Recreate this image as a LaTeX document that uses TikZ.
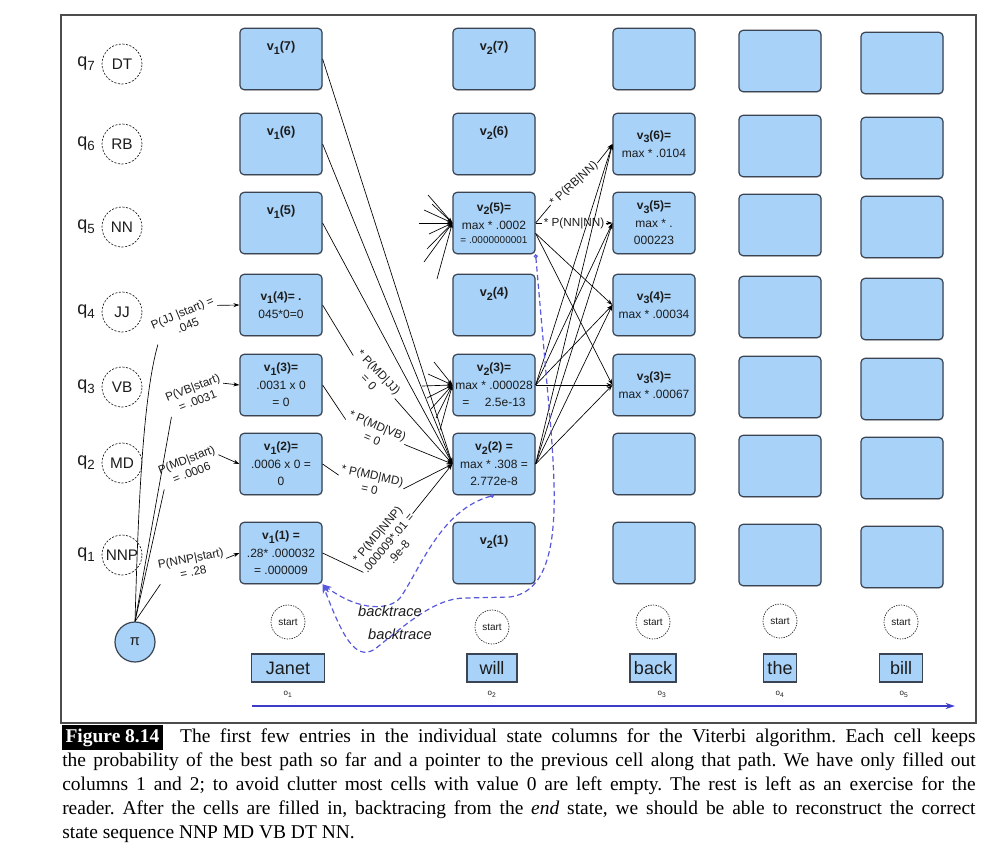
\documentclass[tikz,border=0pt]{standalone}
\usepackage{fontspec}
\setmainfont{Liberation Sans}
\newfontfamily\capfont{Liberation Serif}
\usetikzlibrary{positioning,arrows.meta,shadows}

\definecolor{cellblue}{RGB}{168,210,248}
\definecolor{celledge}{RGB}{58,68,82}
\definecolor{tracecol}{RGB}{88,88,220}
\definecolor{timecol}{RGB}{60,60,200}
\definecolor{inkcol}{RGB}{28,28,28}

\newcommand{\Vt}[2]{v\raisebox{-0.55ex}{\fontsize{8}{8}\selectfont #1}(#2)}
\newcommand{\Qt}[1]{q\raisebox{-0.45ex}{\fontsize{10}{10}\selectfont #1}}

\tikzset{
  cell/.style={draw=celledge, fill=cellblue, line width=0.9pt, rounded corners=3pt,
    minimum width=61.5pt, minimum height=46pt,
    drop shadow={shadow xshift=0.5pt, shadow yshift=-0.7pt, opacity=0.35}},
  celltitle/.style={inner sep=0pt, text=inkcol, font=\fontsize{9.5}{11}\selectfont\bfseries},
  celltext/.style={inner sep=0pt, align=center, text=inkcol, font=\fontsize{9}{12.5}\selectfont},
  wordbox/.style={draw=celledge, fill=cellblue, line width=0.9pt, minimum height=21pt,
    inner sep=0pt, text=inkcol, font=\fontsize{13.5}{15}\selectfont},
  statec/.style={circle, draw=inkcol, dash pattern=on 1.6pt off 1.1pt, line width=0.5pt,
    minimum size=30pt, inner sep=0pt, text=inkcol, font=\fontsize{11.5}{12}\selectfont},
  startc/.style={circle, draw=inkcol, dash pattern=on 1pt off 0.9pt, line width=0.5pt,
    minimum size=25.5pt, inner sep=0pt, text=inkcol, font=\fontsize{7.5}{8}\selectfont},
  pinode/.style={circle, draw=celledge, fill=cellblue, line width=0.9pt, minimum size=30pt,
    inner sep=0pt, text=inkcol, font=\fontsize{11}{12}\selectfont},
  qlab/.style={inner sep=0pt, text=inkcol, font=\fontsize{13.5}{14}\selectfont},
  olab/.style={inner sep=0pt, text=inkcol, font=\fontsize{6}{7}\selectfont},
  plabel/.style={inner sep=1pt, align=center, text=inkcol, font=\fontsize{8.8}{10.5}\selectfont},
  tarrow/.style={-{Stealth[length=4.5pt,width=3pt]}, line width=0.5pt},
  stub/.style={-{Stealth[length=4pt,width=2.6pt]}, line width=0.5pt},
  backtr/.style={tracecol, line width=0.9pt, dash pattern=on 4pt off 2.5pt,
    {Circle[open,length=3pt]}-{Stealth[length=7pt,width=5pt]}},
  btlab/.style={inner sep=0pt, text=inkcol, font=\fontsize{11}{12}\selectfont\itshape}
}

\begin{document}
\begin{tikzpicture}[x=0.75pt,y=-0.75pt]
  \useasboundingbox (0,0) rectangle (996,854);
  \draw[gray!60!black, line width=0.9pt] (61,15) rectangle (976,723);
  %
  % states
  \foreach \n/\s/\y in {7/DT/64,6/RB/144,5/NN/227,4/JJ/312,3/VB/387,2/MD/463,1/NNP/555} {
    \node[qlab] (q\n) at (86,\y) {\Qt{\n}};
    \node[statec] (s\n) at (122,\y) {\s};
  }
  \node[pinode] (pi) at (135,642) {π};
  %
  % trellis cells
  \foreach \c/\x/\dy in {1/281/0,2/494/0,3/654/0,4/780/2,5/902/4}
    \foreach \r/\y in {7/59,6/144,5/223,4/305,3/385,2/464,1/553}
      \node[cell] (v\c\r) at (\x,\y+\dy) {};
  \foreach \c/\r in {1/7,1/6,1/5,2/7,2/6,2/4,2/1}
    \node[celltitle, below=10pt of v\c\r.north] (t\c\r) {\Vt{\c}{\r}};
  \node[celltext] (x14) at (v14) {\textbf{\Vt{1}{4}= .}\\[1pt]045*0=0};
  \node[celltext] (x13) at (v13) {\textbf{\Vt{1}{3}=}\\[1pt].0031 x 0\\= 0};
  \node[celltext] (x12) at (v12) {\textbf{\Vt{1}{2}=}\\[1pt].0006 x 0 =\\0};
  \node[celltext] (x11) at (v11) {\textbf{\Vt{1}{1} =}\\[1pt].28* .000032\\= .000009};
  \node[celltext] (x25) at (v25) {\textbf{\Vt{2}{5}=}\\[1pt]max * .0002\\[-2pt]{\fontsize{7.5}{9}\selectfont = .0000000001}};
  \node[celltext] (x23) at (v23) {\textbf{\Vt{2}{3}=}\\[1pt]max * .000028\\=\hspace{1.3em}2.5e-13};
  \node[celltext] (x22) at (v22) {\textbf{\Vt{2}{2} =}\\[1pt]max * .308 =\\2.772e-8};
  \node[celltext] (x36) at (v36) {\textbf{\Vt{3}{6}=}\\[1pt]max * .0104};
  \node[celltext] (x35) at (v35) {\textbf{\Vt{3}{5}=}\\[1pt]max * .\\000223};
  \node[celltext] (x34) at (v34) {\textbf{\Vt{3}{4}=}\\[1pt]max * .00034};
  \node[celltext] (x33) at (v33) {\textbf{\Vt{3}{3}=}\\[1pt]max * .00067};
  %
  % start probabilities
  \node[plabel, rotate=23] (ljj) at (185,319) {P(JJ |start) =\\.045};
  \node[plabel, rotate=21] (lvb) at (195,394) {P(VB|start)\\= .0031};
  \node[plabel, rotate=21] (lmd) at (189,466) {P(MD|start)\\= .0006};
  \node[plabel, rotate=11] (lnnp) at (192,565) {P(NNP|start)\\= .28};
  \draw[line width=0.5pt] (pi.north) .. controls (138,520) and (142,400) .. (ljj.south west);
  \draw[line width=0.5pt] (pi.north) -- (lvb.south west);
  \draw[line width=0.5pt] (pi.north) -- (lmd.south west);
  \draw[line width=0.5pt] (pi.north) -- (lnnp.south west);
  \draw[tarrow] (ljj.east) -- (v14.west);
  \draw[tarrow] (lvb.east) -- (v13.west);
  \draw[tarrow] (lmd.east) -- (v12.west);
  \draw[tarrow] (lnnp.east) -- (v11.west);
  %
  % column 1 to column 2
  \node[plabel, rotate=-46] (tjj) at (374,377) {* P(MD|JJ)\\= 0};
  \node[plabel, rotate=-23] (tvb) at (375,432) {* P(MD|VB)\\= 0};
  \node[plabel, rotate=-12] (tmd) at (371,482) {* P(MD|MD)\\= 0};
  \node[plabel, rotate=50] (tnnp) at (388,543) {* P(MD|NNP)\\.000009*.01 =\\.9e-8};
  \foreach \r/\l in {4/jj,3/vb,2/md,1/nnp} {
    \draw[line width=0.5pt] (v1\r.east) -- (t\l.west);
    \draw[tarrow] (t\l.east) -- (v22.west);
  }
  \foreach \r in {7,6,5} \draw[tarrow] (v1\r.east) -- (v22.west);
  \foreach \x/\y [count=\i] in {428/195,432/204,424/210,419/223,429/234,427/249,424/262,437/279}
    {\coordinate (fa\i) at (\x,\y); \draw[stub] (fa\i) -- (v25.west);}
  \foreach \x/\y [count=\i] in {434/362,428/374,422/386,427/398,431/409,436/418,440/430}
    {\coordinate (fb\i) at (\x,\y); \draw[stub] (fb\i) -- (v23.west);}
  %
  % column 2 to column 3
  \node[plabel] (tnn) at (574,223) {* P(NN|NN)};
  \node[plabel, rotate=42] (trb) at (574,184) {* P(RB|NN)};
  \draw[line width=0.5pt] (v25.east) -- (tnn.west);
  \draw[tarrow] (tnn.east) -- (v35.west);
  \draw[line width=0.5pt] (v25.east) -- (trb.west);
  \draw[tarrow] (trb.east) -- (v36.west);
  \foreach \t in {4,3} \draw[tarrow] (v25.-14) -- (v3\t.west);
  \foreach \t in {6,5,4,3} \draw[tarrow] (v23.east) -- (v3\t.west);
  \foreach \t in {6,5,4,3} \draw[tarrow] (v22.east) -- (v3\t.west);
  %
  % backtrace
  \draw[backtr] (v25.south east) -- (551,430) .. controls (556,500) and (562,590) .. (510,597)
    -- (465,598) .. controls (435,598) and (405,625) .. (375,649)
    .. controls (355,662) and (342,635) .. (v11.south east);
  \draw[backtr] (v22.south) .. controls (440,510) and (420,570) .. (400,598)
    .. controls (390,610) and (360,612) .. (v11.south east);
  \node[btlab] (bt1) at (390,611) {backtrace};
  \node[btlab] (bt2) at (400,634) {backtrace};
  %
  % observations
  \foreach \w/\x/\bw/\sy/\ox [count=\i] in {Janet/288/55pt/622/288, will/492/37.5pt/627/492,
      back/653/34.5pt/622/662, the/780/25pt/621/780, bill/901/32pt/622/904} {
    \node[startc] (st\i) at (\x,\sy) {start};
    \node[wordbox, minimum width=\bw] (w\i) at (\x,668) {\w};
    \node[olab] (o\i) at (\ox,694) {o\textsubscript{\i}};
  }
  \coordinate (time0) at (252,706);
  \coordinate (time1) at (955,706);
  \draw[timecol, line width=1.1pt, -{Stealth[length=7pt,width=4.5pt]}] (time0) -- (time1);
  %
  % caption
  \node[anchor=north west, inner sep=0pt, text width=685pt, align=justify,
    font=\capfont\fontsize{14.6}{18}\selectfont] (cap) at (62,725) {%
    \frenchspacing\setlength{\fboxsep}{2.5pt}\colorbox{black}{\textcolor{white}{\bfseries Figure 8.14}}\hspace{0.9em}The first few entries in the individual state columns for the Viterbi algorithm. Each cell keeps\linebreak
    the probability of the best path so far and a pointer to the previous cell along that path. We have only filled out\linebreak
    columns 1 and 2; to avoid clutter most cells with value 0 are left empty. The rest is left as an exercise for the\linebreak
    reader. After the cells are filled in, backtracing from the \textit{end} state, we should be able to reconstruct the correct\linebreak
    state sequence NNP MD VB DT NN.};
\end{tikzpicture}
\end{document}
